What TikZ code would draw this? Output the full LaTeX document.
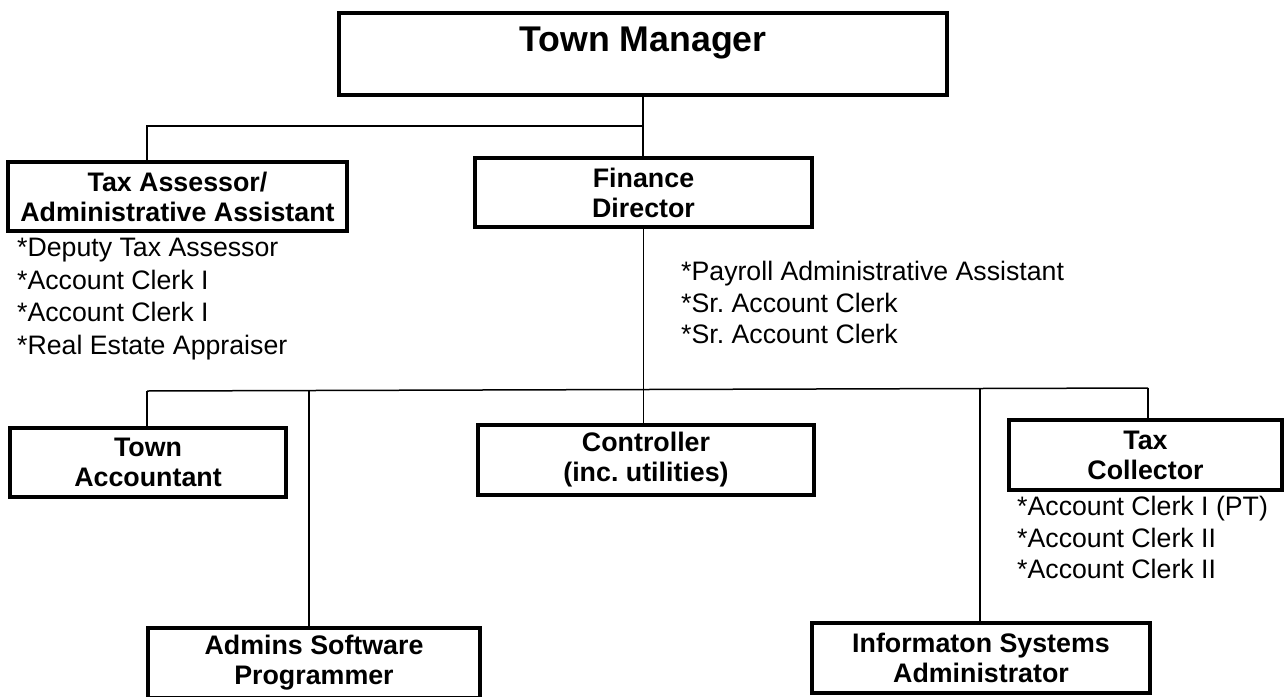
\documentclass[tikz,border=0pt]{standalone}
\usepackage{fontspec}
\setmainfont{Liberation Sans}
\frenchspacing
\begin{document}
\tikzset{
  box/.style={draw, line width=4pt, inner sep=0pt, align=center,
    font=\fontsize{26.8}{30}\selectfont\bfseries},
  conn/.style={line width=1.5pt},
  staff/.style={inner sep=0pt, align=left, anchor=north west,
    font=\fontsize{26.7}{32.5}\selectfont}
}
\begin{tikzpicture}[x=1pt,y=-1pt]
\useasboundingbox[fill=white] (0,0) rectangle (1284,696);
% boxes
\node[box, minimum width=608pt, minimum height=82pt, text height=26pt, text depth=32pt,
  font=\fontsize{35.7}{40}\selectfont\bfseries] (tm) at (643,54) {Town Manager};
\node[box, minimum width=339pt, minimum height=69pt] (ta) at (177.5,196.5) {Tax Assessor/\\Administrative Assistant};
\node[box, minimum width=337pt, minimum height=69pt] (fin) at (643.5,192.5) {Finance\\Director};
\node[box, minimum width=276pt, minimum height=69pt] (acc) at (148,462.5) {Town\\Accountant};
\node[box, minimum width=336pt, minimum height=70pt] (ctrl) at (646,460) {Controller\\(inc. utilities)};
\node[box, minimum width=273pt, minimum height=70pt] (tc) at (1145.5,455) {Tax\\Collector};
\node[box, minimum width=332pt, minimum height=70pt] (adm) at (314,663) {Admins Software\\Programmer};
\node[box, minimum width=338pt, minimum height=70pt] (isa) at (981,658) {Informaton Systems\\Administrator};
% staff lists
\node[staff] (talist) at (17,238) {*Deputy Tax Assessor\\*Account Clerk I\\*Account Clerk I\\*Real Estate Appraiser};
\node[staff, font=\fontsize{26.7}{31.5}\selectfont] (finlist) at (681,261) {*Payroll Administrative Assistant\\*Sr. Account Clerk\\*Sr. Account Clerk};
\node[staff, font=\fontsize{26.7}{31.5}\selectfont] (tclist) at (1017,496) {*Account Clerk I (PT)\\*Account Clerk II\\*Account Clerk II};
% connectors
\coordinate (j0) at (643,126);
\coordinate (j1) at (147,126);
\coordinate (b0) at (147,391);
\coordinate (b1) at (309,390.5);
\coordinate (b2) at (980,389);
\coordinate (b3) at (1148,388);
\draw[conn] (tm.south) -- (tm.south |- fin.north);
\draw[conn] (j0) -- (j1) -- (j1 |- ta.north);
\draw[conn] (fin.south) -- (fin.south |- ctrl.north);
\draw[conn] (b0) -- (b3);
\draw[conn] (b0) -- (b0 |- acc.north);
\draw[conn] (b1) -- (b1 |- adm.north);
\draw[conn] (b2) -- (b2 |- isa.north);
\draw[conn] (b3) -- (b3 |- tc.north);
\end{tikzpicture}
\end{document}
